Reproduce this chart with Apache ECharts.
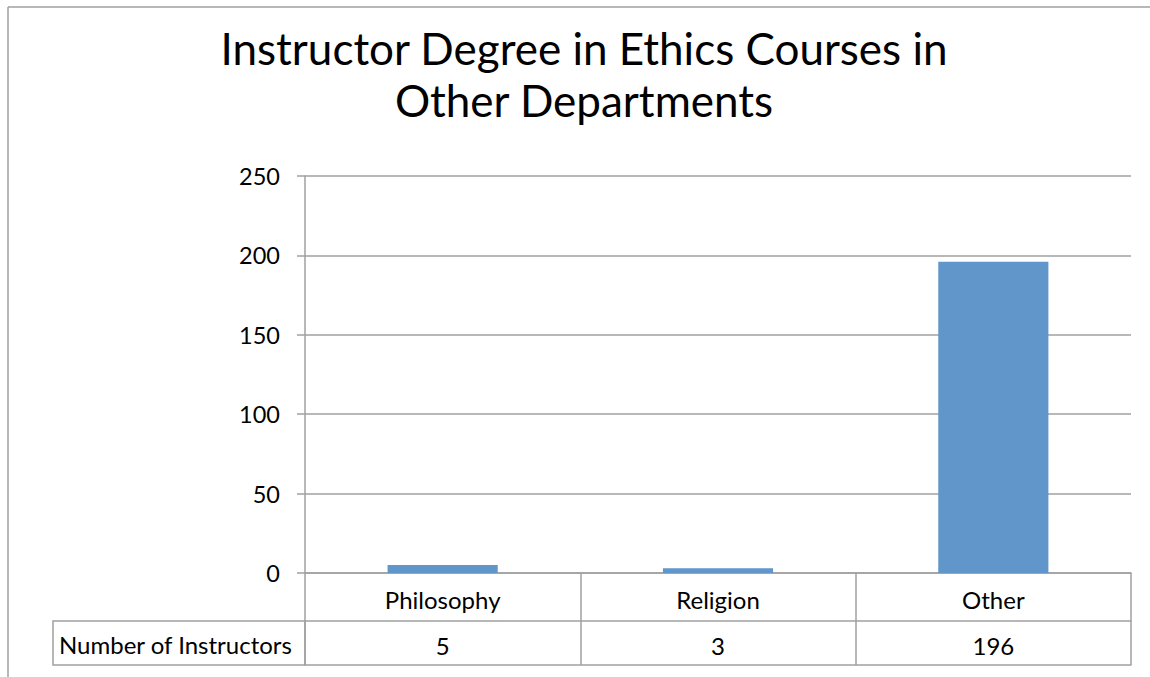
<!DOCTYPE html>
<html>
<head>
<meta charset="utf-8">
<script src="https://cdn.jsdelivr.net/npm/echarts@6/dist/echarts.min.js"></script>
<style>
  html, body { margin: 0; padding: 0; background: #ffffff; }
  #chart { width: 1150px; height: 677px; }
</style>
</head>
<body>
<div id="chart"></div>
<script>
const titleText = 'Instructor Degree in Ethics Courses in\nOther Departments';
const categories = ['Philosophy', 'Religion', 'Other'];
const seriesName = 'Number of Instructors';
const values = [5, 3, 196];
const yMin = 0, yMax = 250, yStep = 50;

const FONT = 'Lato, "Open Sans", sans-serif';
const LINE = '#a0a0a0';
const chart = echarts.init(document.getElementById('chart'), null, { renderer: 'svg' });

const option = {
  animation: false,
  backgroundColor: '#ffffff',
  title: {
    text: titleText,
    left: 584,
    top: 22,
    padding: 0,
    textAlign: 'center',
    textStyle: { fontFamily: FONT, fontSize: 44, fontWeight: 'normal', color: '#000', lineHeight: 52 }
  },
  grid: { left: 305, right: 19, top: 176, bottom: 104, containLabel: false },
  xAxis: [
    {
      type: 'category', data: categories, position: 'bottom',
      axisLine: { show: true, lineStyle: { color: LINE, width: 1.5 } },
      axisTick: { show: true, interval: 0, length: 92, lineStyle: { color: LINE, width: 1.5 } },
      axisLabel: { fontFamily: FONT, fontSize: 24, color: '#000', margin: 14, interval: 0 }
    },
    {
      type: 'category', data: values.map(String), position: 'bottom', offset: 48,
      axisLine: { show: true, lineStyle: { color: LINE, width: 1.5 } },
      axisTick: { show: false },
      axisLabel: { fontFamily: FONT, fontSize: 24, color: '#000', margin: 12, interval: 0 }
    },
    {
      type: 'category', data: categories, position: 'bottom', offset: 92,
      axisLine: { show: true, lineStyle: { color: LINE, width: 1.5 } },
      axisTick: { show: false },
      axisLabel: { show: false }
    }
  ],
  yAxis: {
    type: 'value', min: yMin, max: yMax, interval: yStep,
    axisLine: { show: true, lineStyle: { color: LINE, width: 1.5 } },
    axisTick: { show: true, length: 8, lineStyle: { color: LINE, width: 1.5 } },
    axisLabel: { fontFamily: FONT, fontSize: 23.5, color: '#000', margin: 25 },
    splitLine: { show: true, lineStyle: { color: LINE, width: 1.5 } }
  },
  series: [{
    name: seriesName, type: 'bar', data: values, xAxisIndex: 0,
    barWidth: '40%',
    itemStyle: { color: '#6096CA' }
  }],
  graphic: [
    { type: 'line', shape: { x1: 8, y1: 7, x2: 1150, y2: 7 }, style: { stroke: LINE, lineWidth: 1.5 } },
    { type: 'line', shape: { x1: 8, y1: 7, x2: 8, y2: 677 }, style: { stroke: LINE, lineWidth: 1.5 } },
    { type: 'rect', shape: { x: 53, y: 621, width: 252, height: 44 }, style: { fill: 'none', stroke: LINE, lineWidth: 1.5 } },
    { type: 'text', x: 59, y: 644, style: { text: seriesName, fontFamily: FONT, fontSize: 24, fill: '#000', verticalAlign: 'middle' } }
  ]
};
chart.setOption(option);
</script>
</body>
</html>
